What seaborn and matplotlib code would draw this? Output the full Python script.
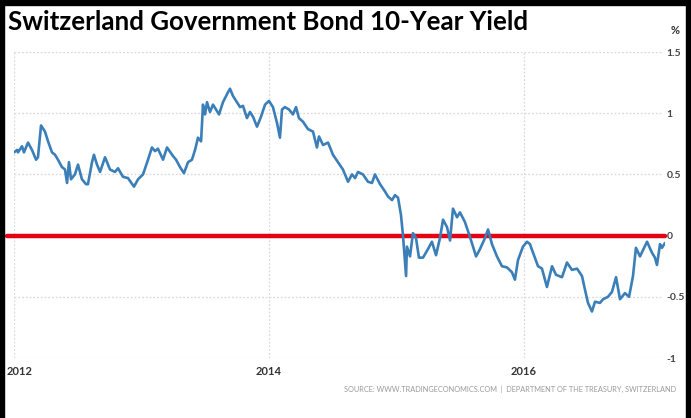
import matplotlib
matplotlib.use("Agg")
import matplotlib.pyplot as plt
from matplotlib.patches import Rectangle
from matplotlib.transforms import ScaledTranslation
import seaborn as sns
import pandas as pd

# ---- data (decimal years, yield %) ----
years = [2012.000, 2012.024, 2012.031, 2012.063, 2012.078, 2012.110, 2012.141, 2012.173, 2012.188, 2012.212,
         2012.243, 2012.267, 2012.298, 2012.322, 2012.345, 2012.376, 2012.400, 2012.416, 2012.431, 2012.447,
         2012.478, 2012.502, 2012.533, 2012.565, 2012.580, 2012.612, 2012.627, 2012.651, 2012.675, 2012.714,
         2012.753, 2012.792, 2012.816, 2012.855, 2012.894, 2012.941, 2012.973, 2013.012, 2013.051, 2013.082,
         2013.106, 2013.129, 2013.169, 2013.200, 2013.247, 2013.271, 2013.302, 2013.333, 2013.365, 2013.396,
         2013.420, 2013.443, 2013.467, 2013.475, 2013.482, 2013.498, 2013.514, 2013.537, 2013.561, 2013.584,
         2013.608, 2013.639, 2013.663, 2013.678, 2013.694, 2013.718, 2013.749, 2013.773, 2013.796, 2013.827,
         2013.851, 2013.875, 2013.906, 2013.937, 2013.969, 2014.000, 2014.031, 2014.063, 2014.086, 2014.102,
         2014.125, 2014.157, 2014.188, 2014.212, 2014.235, 2014.267, 2014.306, 2014.345, 2014.376, 2014.392,
         2014.424, 2014.463, 2014.502, 2014.541, 2014.580, 2014.620, 2014.651, 2014.675, 2014.698, 2014.737,
         2014.776, 2014.808, 2014.831, 2014.871, 2014.910, 2014.933, 2014.965, 2014.988, 2015.012, 2015.035,
         2015.051, 2015.059, 2015.075, 2015.082, 2015.106, 2015.129, 2015.153, 2015.176, 2015.208, 2015.247,
         2015.278, 2015.310, 2015.341, 2015.365, 2015.396, 2015.420, 2015.443, 2015.475, 2015.498, 2015.537,
         2015.576, 2015.624, 2015.655, 2015.694, 2015.718, 2015.749, 2015.788, 2015.827, 2015.867, 2015.906,
         2015.929, 2015.953, 2015.992, 2016.024, 2016.047, 2016.071, 2016.110, 2016.141, 2016.180, 2016.220,
         2016.251, 2016.298, 2016.337, 2016.376, 2016.416, 2016.455, 2016.478, 2016.502, 2016.533, 2016.557,
         2016.596, 2016.620, 2016.659, 2016.690, 2016.722, 2016.753, 2016.792, 2016.824, 2016.855, 2016.878,
         2016.910, 2016.965, 2017.004, 2017.027, 2017.043, 2017.067, 2017.082, 2017.106]
yields = [0.68, 0.70, 0.68, 0.73, 0.68, 0.76, 0.70, 0.62, 0.64, 0.90,
          0.85, 0.77, 0.68, 0.66, 0.62, 0.56, 0.54, 0.43, 0.60, 0.46,
          0.50, 0.58, 0.46, 0.42, 0.42, 0.60, 0.66, 0.58, 0.52, 0.64,
          0.54, 0.52, 0.55, 0.48, 0.47, 0.40, 0.46, 0.50, 0.62, 0.72,
          0.69, 0.71, 0.62, 0.72, 0.65, 0.62, 0.56, 0.51, 0.60, 0.62,
          0.70, 0.80, 0.77, 0.92, 1.07, 0.99, 1.09, 1.01, 1.07, 1.03,
          0.99, 1.09, 1.14, 1.17, 1.20, 1.14, 1.09, 1.05, 1.06, 0.96,
          1.01, 0.97, 0.89, 0.97, 1.07, 1.10, 1.05, 0.92, 0.80, 1.03,
          1.05, 1.03, 0.99, 1.05, 0.96, 0.93, 0.87, 0.85, 0.72, 0.81,
          0.74, 0.76, 0.66, 0.60, 0.54, 0.44, 0.50, 0.47, 0.52, 0.50,
          0.44, 0.43, 0.50, 0.42, 0.36, 0.32, 0.29, 0.33, 0.31, 0.17,
          0.00, -0.11, -0.33, -0.09, -0.17, 0.02, -0.02, -0.18, -0.18, -0.11,
          -0.05, -0.16, -0.02, 0.13, 0.07, -0.04, 0.22, 0.15, 0.19, 0.11,
          -0.01, -0.17, -0.11, -0.02, 0.05, -0.07, -0.17, -0.25, -0.26, -0.30,
          -0.36, -0.20, -0.09, -0.05, -0.07, -0.14, -0.25, -0.27, -0.42, -0.25,
          -0.32, -0.34, -0.22, -0.28, -0.27, -0.33, -0.44, -0.55, -0.62, -0.54,
          -0.55, -0.52, -0.50, -0.46, -0.34, -0.52, -0.47, -0.50, -0.33, -0.10,
          -0.17, -0.05, -0.14, -0.18, -0.24, -0.07, -0.10, -0.06]

x_ticks = [2012, 2014, 2016]
x_tick_labels = ["2012", "2014", "2016"]
y_ticks = [-1, -0.5, 0, 0.5, 1, 1.5]
y_tick_labels = ["-1", "-0.5", "0", "0.5", "1", "1.5"]

title = "Switzerland Government Bond 10-Year Yield"
source = "SOURCE: WWW.TRADINGECONOMICS.COM  |  DEPARTMENT OF THE TREASURY, SWITZERLAND"

df = pd.DataFrame({"year": years, "yield": yields})

sns.set_style("white")
plt.rcParams["font.family"] = ["Lato", "DejaVu Sans"]

W, H = 691, 418
fig = plt.figure(figsize=(W / 100, H / 100), dpi=100)
fig.patch.set_facecolor("white")

ax = fig.add_axes([14 / W, 1 - 358 / H, (665 - 14) / W, (358 - 52) / H])
ax.set_facecolor("white")

for y in y_ticks:
    ax.axhline(y, color="#d9d9d9", lw=0.9, ls=(0, (1.5, 1.5)), xmax=0.995, zorder=0)
for x in x_ticks:
    ax.axvline(x, color="#d9d9d9", lw=0.9, ls=(0, (1.5, 1.5)), zorder=0)

ax.axhline(0, color="#e60012", lw=3.2, xmin=-0.011, xmax=1.0, clip_on=False, zorder=3)

sns.lineplot(data=df, x="year", y="yield", ax=ax, color="#3b7fb8", lw=1.9, zorder=4)

ax.set_xlim(2012, years[-1])
ax.set_ylim(-1, 1.5)
ax.set_xticks(x_ticks)
ax.set_xticklabels(x_tick_labels, fontsize=8, fontweight="bold", color="#333333")
ax.set_yticks(y_ticks)
ax.set_yticklabels(y_tick_labels, fontsize=7.5, fontweight="bold", color="#444444")
ax.yaxis.tick_right()
ax.tick_params(axis="y", length=0, pad=1)
ax.tick_params(axis="x", length=0, pad=6)
ax.set_xlabel("")
ax.set_ylabel("")
for s in ax.spines.values():
    s.set_visible(False)

# nudge the first year label inside the frame, as in the reference
first = ax.get_xticklabels()[0]
first.set_transform(first.get_transform() + ScaledTranslation(6 / 100, 0, fig.dpi_scale_trans))

fig.text(8 / W, 1 - 22 / H, title, fontsize=18.6, fontweight="bold", color="#000000",
         ha="left", va="center")
fig.text(675 / W, 1 - 31 / H, "%", fontsize=8, fontweight="bold", color="#333333",
         ha="center", va="center")
fig.text(676 / W, 1 - 389 / H, source, fontsize=5.3, color="#9a9a9a", ha="right", va="center")

# black frame edges
fig.patches.append(Rectangle((0, 0), 4 / W, 1, transform=fig.transFigure, color="black", zorder=10))
fig.patches.append(Rectangle((0, 1 - 5 / H), 1, 5 / H, transform=fig.transFigure, color="black", zorder=10))
fig.patches.append(Rectangle((1 - 5 / W, 0), 5 / W, 1, transform=fig.transFigure, color="black", zorder=10))

fig.savefig("out.png", dpi=100, facecolor="white")
